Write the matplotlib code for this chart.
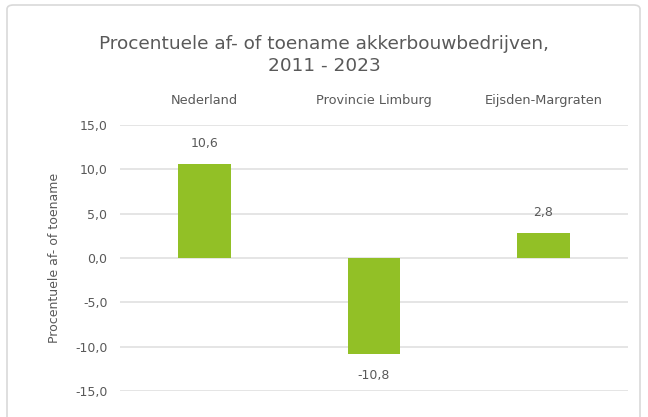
import matplotlib.pyplot as plt
from matplotlib.patches import FancyBboxPatch

# gegevens
categorieen = ["Nederland", "Provincie Limburg", "Eijsden-Margraten"]
waarden = [10.6, -10.8, 2.8]
y_ticks = [-15, -10, -5, 0, 5, 10, 15]

grijs = "#595959"
groen = "#92C026"

plt.rcParams['font.family'] = ['DejaVu Sans']

fig = plt.figure(figsize=(6.48, 4.17), dpi=100)

# kader rond de grafiek (onderkant valt buiten beeld)
kader = FancyBboxPatch((7 / 648, -0.05), 633 / 648, 1 - 5 / 417 + 0.05,
                       boxstyle="round,pad=0,rounding_size=0.01",
                       transform=fig.transFigure, facecolor="none",
                       edgecolor="#d9d9d9", linewidth=1.2, zorder=-1)
fig.patches.append(kader)

ax = fig.add_axes([120 / 648, 1 - 391 / 417, 508 / 648, 266 / 417])
ax.set_facecolor("none")

x = range(len(categorieen))
ax.bar(x, waarden, width=0.31, color=groen, zorder=3)

for xi, v in zip(x, waarden):
    tekst = f"{v:.1f}".replace(".", ",")
    ax.annotate(tekst, (xi, v), xytext=(0, 15 if v > 0 else -16),
                textcoords="offset points", ha="center", va="center",
                fontsize=9, color=grijs)

ax.set_xlim(-0.5, len(categorieen) - 0.5)
ax.set_ylim(-15, 15)
ax.set_yticks(y_ticks)
ax.set_yticklabels([f"{t:.1f}".replace(".", ",") for t in y_ticks],
                   fontsize=9, color=grijs)
ax.yaxis.grid(True, color="#dedede", linewidth=1.1, zorder=0)
ax.tick_params(axis="y", length=0, pad=9)

ax.xaxis.tick_top()
ax.set_xticks(list(x))
ax.set_xticklabels(categorieen, fontsize=9.3, color=grijs)
ax.tick_params(axis="x", length=0, pad=13)

for s in ax.spines.values():
    s.set_visible(False)

ax.set_ylabel("Procentuele af- of toename", fontsize=9, color=grijs, labelpad=10)

fig.text(0.5, 1 - 55 / 417, "Procentuele af- of toename akkerbouwbedrijven,\n2011 - 2023",
         ha="center", va="center", fontsize=13.3, color=grijs, linespacing=1.3)

fig.savefig("out.png", dpi=100)
